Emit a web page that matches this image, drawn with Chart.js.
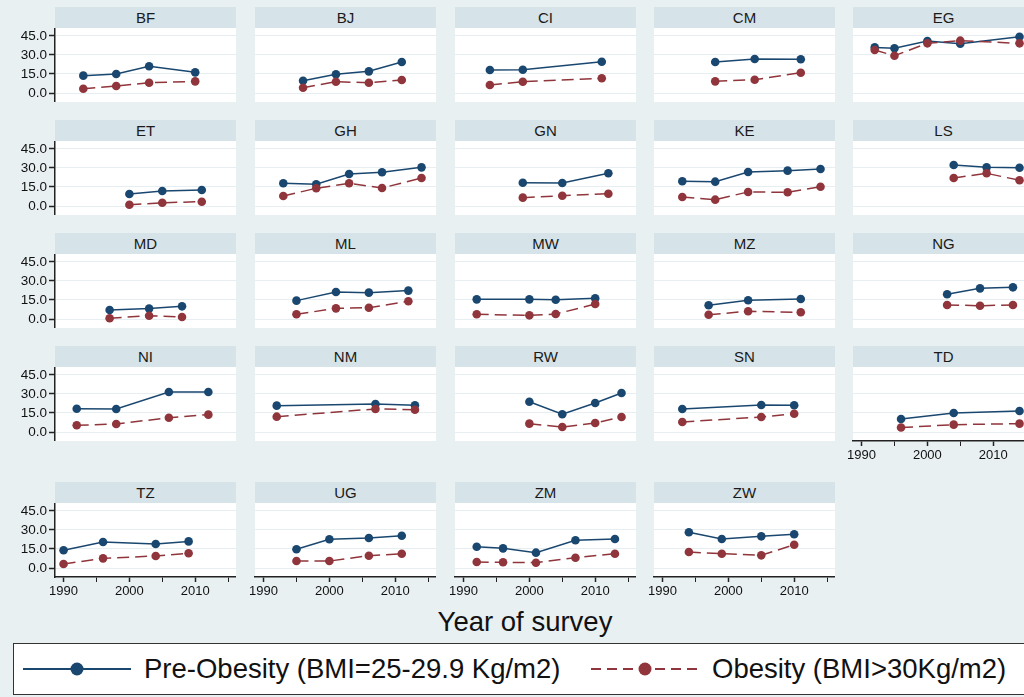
<!DOCTYPE html>
<html>
<head>
<meta charset="utf-8">
<title>Pre-obesity and obesity by year of survey</title>
<script src="https://cdn.jsdelivr.net/npm/chart.js@4/dist/chart.umd.min.js"></script>
<style>
  html, body { margin: 0; padding: 0; }
  body {
    width: 1024px; height: 697px; overflow: hidden; position: relative;
    background: #e9f0f2;
    font-family: "Liberation Sans", Arial, sans-serif;
    color: #111;
  }
  .strip {
    position: absolute; height: 21px; line-height: 21px;
    background: #d6e3e8; text-align: center; font-size: 15px; color: #1a1a1a;
  }
  canvas { position: absolute; }
  #xtitle {
    position: absolute; left: 325px; top: 604px; width: 400px;
    text-align: center; font-size: 27.5px; line-height: 36px;
  }
  #legend {
    position: absolute; left: 13px; top: 643px; width: 1040px; height: 52px;
    background: #fff; border: 1.5px solid #333; box-sizing: border-box;
  }
  .item { position: absolute; top: 0; height: 50px; display: flex; align-items: center; font-size: 27.5px; white-space: nowrap; }
  .item svg { margin-right: 12px; }
</style>
</head>
<body>
<div id="panels"></div>
<div id="xtitle">Year of survey</div>
<div id="legend"></div>

<script>
"use strict";

const countries = ["BF", "BJ", "CI", "CM", "EG", "ET", "GH", "GN", "KE", "LS",
  "MD", "ML", "MW", "MZ", "NG", "NI", "NM", "RW", "SN", "TD", "TZ", "UG", "ZM", "ZW"];

const surveyYears = [
  [1993, 1998, 2003, 2010], [1996, 2001, 2006, 2011], [1994, 1999, 2011], [1998, 2004, 2011],
  [1992, 1995, 2000, 2005, 2014], [2000, 2005, 2011], [1993, 1998, 2003, 2008, 2014],
  [1999, 2005, 2012], [1993, 1998, 2003, 2009, 2014], [2004, 2009, 2014],
  [1997, 2003, 2008], [1995, 2001, 2006, 2012], [1992, 2000, 2004, 2010], [1997, 2003, 2011],
  [2003, 2008, 2013], [1992, 1998, 2006, 2012], [1992, 2007, 2013], [2000, 2005, 2010, 2014],
  [1993, 2005, 2010], [1996, 2004, 2014], [1990, 1996, 2004, 2009], [1995, 2000, 2006, 2011],
  [1992, 1996, 2001, 2007, 2013], [1994, 1999, 2005, 2010]
];

const preObesity = [
  [13.7, 15.0, 21.1, 16.3], [9.7, 14.8, 17.1, 24.5], [18.2, 18.4, 24.7], [24.5, 26.8, 26.6],
  [36.0, 35.3, 41.0, 38.9, 44.4], [9.5, 11.8, 12.6], [17.9, 17.1, 25.3, 26.6, 30.5],
  [18.4, 18.2, 25.8], [19.5, 19.2, 26.8, 27.9, 29.2], [32.4, 30.5, 30.2],
  [7.1, 8.2, 10.0], [14.5, 21.3, 20.8, 22.4], [15.5, 15.5, 15.2, 16.3], [10.8, 14.8, 15.8],
  [19.5, 24.2, 25.0], [18.4, 18.2, 31.6, 31.6], [20.8, 22.1, 21.1], [23.9, 14.0, 22.9, 30.8],
  [18.2, 21.3, 21.1], [10.3, 15.0, 16.6], [14.0, 20.5, 18.9, 21.0], [14.8, 22.7, 23.7, 25.5],
  [16.8, 15.5, 12.1, 21.9, 22.9], [28.2, 22.9, 25.0, 26.6]
];

const obesity = [
  [3.4, 5.5, 8.1, 9.2], [4.2, 8.9, 8.1, 10.3], [6.3, 8.9, 11.6], [9.2, 10.5, 16.0],
  [33.9, 29.4, 39.2, 41.3, 39.2], [1.0, 2.6, 3.4], [7.9, 14.0, 17.9, 14.2, 22.1],
  [6.6, 8.1, 9.7], [7.1, 5.0, 11.1, 10.8, 15.2], [22.1, 25.8, 20.3],
  [0.6, 2.6, 1.6], [3.7, 8.4, 8.9, 14.0], [3.7, 2.9, 3.9, 11.8], [3.4, 6.1, 5.3],
  [11.1, 10.5, 11.1], [5.3, 6.3, 11.3, 13.7], [12.1, 18.2, 17.6], [6.6, 3.9, 7.1, 11.8],
  [7.9, 11.8, 14.4], [3.5, 5.8, 6.6], [3.2, 7.6, 9.5, 11.6], [5.5, 5.5, 9.7, 11.3],
  [4.7, 4.5, 4.2, 8.1, 11.3], [12.6, 11.3, 10.0, 18.4]
];

const seriesNames = ["Pre-Obesity (BMI=25-29.9 Kg/m2)", "Obesity (BMI>30Kg/m2)"];
const yTicks = [0, 15, 30, 45];
const xTicks = [1990, 2000, 2010];
const xMinorTicks = [1995, 2005, 2015];

// layout (pixels)
const NAVY = "#1a476f";
const MAROON = "#90353b";
const FONT = "'Liberation Sans', Arial, sans-serif";
const colLeft = [55, 255, 455, 654, 853];
const rowTop = [7, 120, 233, 346, 482];
const stripH = 21, plotW = 181, plotH = 74, xAxisH = 26;

const plotBg = {
  id: "plotBg",
  beforeDraw(chart) {
    const { ctx, chartArea: a } = chart;
    ctx.save();
    ctx.fillStyle = "#fff";
    ctx.fillRect(a.left, a.top, a.width, a.height);
    ctx.restore();
  }
};

// no extra room for overflowing tick labels, the chart area must fill the panel
function noPadding(s) {
  s.paddingTop = 0; s.paddingBottom = 0; s.paddingLeft = 0; s.paddingRight = 0;
}

const panels = document.getElementById("panels");

countries.forEach((code, i) => {
  const row = Math.floor(i / 5), col = i % 5;
  const first = col === 0;
  const bottom = row === 4 || code === "TD";
  const yAxisW = first ? 55 : 18;
  const left = colLeft[col], top = rowTop[row];

  const strip = document.createElement("div");
  strip.className = "strip";
  strip.style.left = left + "px";
  strip.style.top = top + "px";
  strip.style.width = plotW + "px";
  strip.textContent = code;
  panels.appendChild(strip);

  const w = plotW + yAxisW, h = plotH + (bottom ? xAxisH : 0);
  const canvas = document.createElement("canvas");
  canvas.width = w; canvas.height = h;
  canvas.style.left = (left - yAxisW) + "px";
  canvas.style.top = (top + stripH) + "px";
  canvas.style.width = w + "px";
  canvas.style.height = h + "px";
  panels.appendChild(canvas);

  const years = surveyYears[i];
  new Chart(canvas.getContext("2d"), {
    type: "line",
    data: {
      datasets: [
        {
          label: seriesNames[0],
          data: years.map((x, k) => ({ x: x, y: preObesity[i][k] })),
          borderColor: NAVY, backgroundColor: NAVY,
          borderWidth: 1.5, pointRadius: 4.3, pointBorderWidth: 0,
          tension: 0, order: 1
        },
        {
          label: seriesNames[1],
          data: years.map((x, k) => ({ x: x, y: obesity[i][k] })),
          borderColor: MAROON, backgroundColor: MAROON,
          borderWidth: 1.5, borderDash: [12, 6], pointRadius: 4.3, pointBorderWidth: 0,
          tension: 0, order: 0
        }
      ]
    },
    options: {
      responsive: false,
      animation: false,
      events: [],
      layout: { padding: 0, autoPadding: false },
      plugins: { legend: { display: false }, tooltip: { enabled: false } },
      scales: {
        x: {
          type: "linear",
          min: 1988.7, max: 2016.2,
          display: bottom,
          afterBuildTicks: s => {
            s.ticks = xTicks.concat(xMinorTicks).sort((a, b) => a - b).map(v => ({ value: v }));
          },
          afterFit: s => { s.height = bottom ? xAxisH : 0; noPadding(s); },
          grid: {
            drawOnChartArea: false, drawTicks: true, tickLength: 5,
            tickColor: "#222",
            tickWidth: ctx => (xTicks.includes(ctx.tick && ctx.tick.value) ? 1.5 : 1)
          },
          border: { display: true, color: "#222", width: 1.5 },
          ticks: {
            autoSkip: false, maxRotation: 0, padding: 2, color: "#111",
            font: { family: FONT, size: 13 },
            callback: v => (xTicks.includes(v) ? String(v) : "")
          }
        },
        y: {
          min: -7.1, max: 51.3,
          afterBuildTicks: s => { s.ticks = yTicks.map(v => ({ value: v })); },
          afterFit: s => { s.width = yAxisW; noPadding(s); },
          grid: {
            color: "#e6eef1", lineWidth: 1,
            drawTicks: first, tickLength: 6, tickColor: "#222", tickWidth: 1.5
          },
          border: { display: first, color: "#222", width: 1.5 },
          ticks: {
            display: first, autoSkip: false, padding: 2, color: "#111",
            font: { family: FONT, size: 13.5 },
            callback: v => Number(v).toFixed(1)
          }
        }
      }
    },
    plugins: [plotBg]
  });
});

// legend
const legend = document.getElementById("legend");
const legendItems = [
  { name: seriesNames[0], color: NAVY, dash: "", x: 8 },
  { name: seriesNames[1], color: MAROON, dash: "10 6", x: 576 }
];
legendItems.forEach(it => {
  const d = document.createElement("div");
  d.className = "item";
  d.style.left = it.x + "px";
  d.innerHTML =
    '<svg width="110" height="20" viewBox="0 0 110 20">' +
    '<line x1="1" y1="10" x2="109" y2="10" stroke="' + it.color + '" stroke-width="2"' +
    (it.dash ? ' stroke-dasharray="' + it.dash + '"' : "") + "/>" +
    '<circle cx="55" cy="10" r="6.5" fill="' + it.color + '"/></svg>';
  const t = document.createElement("span");
  t.textContent = it.name;
  d.appendChild(t);
  legend.appendChild(d);
});
</script>
</body>
</html>
